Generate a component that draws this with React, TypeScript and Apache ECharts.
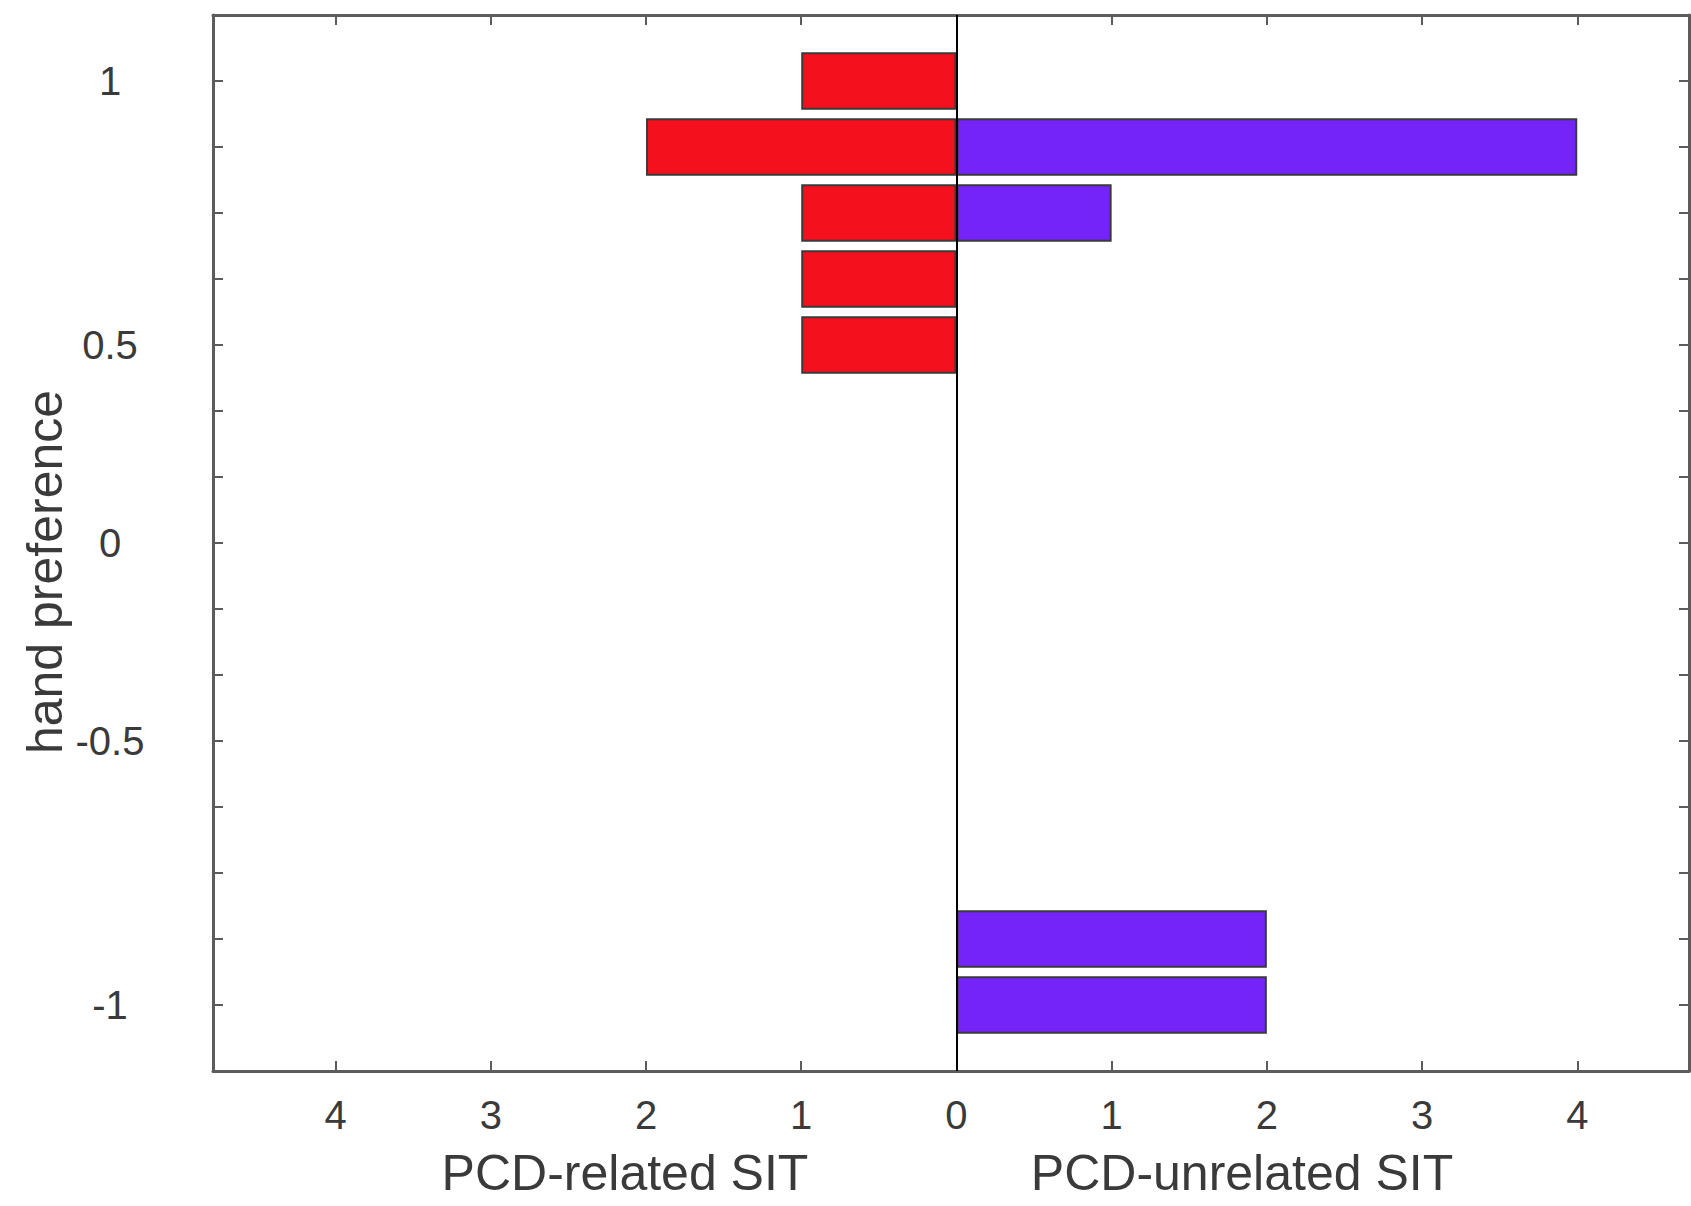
import React, { useEffect, useRef } from "react";
import * as echarts from "echarts";

// Histogram bins from top to bottom (first and last are empty padding bins)
const yCategories = ["", "1", "", "", "", "0.5", "", "", "0", "", "", "-0.5", "", "", "", "-1", ""];
// PCD-related SIT counts (drawn to the left, as negative values)
const relatedCounts = [null, 1, 2, 1, 1, 1, null, null, null, null, null, null, null, null, null, null, null];
// PCD-unrelated SIT counts (drawn to the right)
const unrelatedCounts = [null, null, 4, 1, null, null, null, null, null, null, null, null, null, null, 2, 2, null];

const xMin = -4.79;
const xMax = 4.72;
const leftName = "PCD-related SIT";
const rightName = "PCD-unrelated SIT";
const yName = "hand preference";

const FONT = "Liberation Sans, Arial, Helvetica, sans-serif";
const FRAME = "#5c5c5c";

export default function App() {
  const ref = useRef<HTMLDivElement>(null);
  useEffect(() => {
    document.body.style.margin = "0";
    const chart = echarts.init(ref.current!, null, { renderer: "svg" });
    const frameLine = { show: true, lineStyle: { color: FRAME, width: 3 } };
    const tick = { show: true, inside: true, length: 10, lineStyle: { color: FRAME, width: 2 } };
    chart.setOption({
      animation: false,
      backgroundColor: "#ffffff",
      grid: { left: 213, top: 15, width: 1476, height: 1056, containLabel: false },
      xAxis: [
        {
          type: "value",
          position: "bottom",
          min: xMin,
          max: xMax,
          splitNumber: 10,
          axisLine: { ...frameLine, onZero: false },
          axisTick: tick,
          splitLine: { show: false },
          axisLabel: {
            showMinLabel: false,
            showMaxLabel: false,
            margin: 24,
            fontSize: 40,
            color: "#3a3a3a",
            fontFamily: FONT,
            formatter: (v: number) => (Number.isInteger(v) ? String(Math.abs(v)) : ""),
          },
        },
        {
          type: "value",
          position: "top",
          min: xMin,
          max: xMax,
          splitNumber: 10,
          axisLine: { ...frameLine, onZero: false },
          axisTick: tick,
          splitLine: { show: false },
          axisLabel: { show: false },
        },
      ],
      yAxis: [
        {
          type: "category",
          data: yCategories,
          inverse: true,
          boundaryGap: false,
          position: "left",
          axisLine: { ...frameLine, onZero: false },
          axisTick: { ...tick, interval: 0 },
          splitLine: { show: false },
          axisLabel: {
            interval: 0,
            margin: 103,
            align: "center",
            fontSize: 40,
            color: "#3a3a3a",
            fontFamily: FONT,
          },
        },
        {
          type: "category",
          data: yCategories,
          inverse: true,
          boundaryGap: false,
          position: "right",
          axisLine: { ...frameLine, onZero: false },
          axisTick: { ...tick, interval: 0 },
          splitLine: { show: false },
          axisLabel: { show: false },
        },
      ],
      series: [
        {
          name: leftName,
          type: "bar",
          xAxisIndex: 0,
          yAxisIndex: 0,
          data: relatedCounts.map((v) => (v == null ? null : -v)),
          barGap: "-100%",
          barCategoryGap: "13%",
          itemStyle: { color: "#f5101e", borderColor: "#3a3a3a", borderWidth: 2 },
          markLine: {
            silent: true,
            symbol: ["none", "none"],
            label: { show: false },
            lineStyle: { color: "#000000", width: 2, type: "solid" },
            data: [{ xAxis: 0 }],
          },
        },
        {
          name: rightName,
          type: "bar",
          xAxisIndex: 0,
          yAxisIndex: 0,
          data: unrelatedCounts,
          barGap: "-100%",
          barCategoryGap: "13%",
          itemStyle: { color: "#7424f8", borderColor: "#3a3a3a", borderWidth: 2 },
        },
      ],
      graphic: [
        {
          type: "text",
          x: 625,
          y: 1173,
          style: {
            text: leftName,
            fontSize: 50,
            fontFamily: FONT,
            fill: "#3a3a3a",
            align: "center",
            verticalAlign: "middle",
          },
        },
        {
          type: "text",
          x: 1242,
          y: 1173,
          style: {
            text: rightName,
            fontSize: 50,
            fontFamily: FONT,
            fill: "#3a3a3a",
            align: "center",
            verticalAlign: "middle",
          },
        },
        {
          type: "text",
          x: 45,
          y: 572,
          rotation: Math.PI / 2,
          style: {
            text: yName,
            fontSize: 50,
            fontFamily: FONT,
            fill: "#3a3a3a",
            align: "center",
            verticalAlign: "middle",
          },
        },
      ],
    });
    return () => chart.dispose();
  }, []);
  return <div ref={ref} style={{ width: 1691, height: 1206 }} />;
}
